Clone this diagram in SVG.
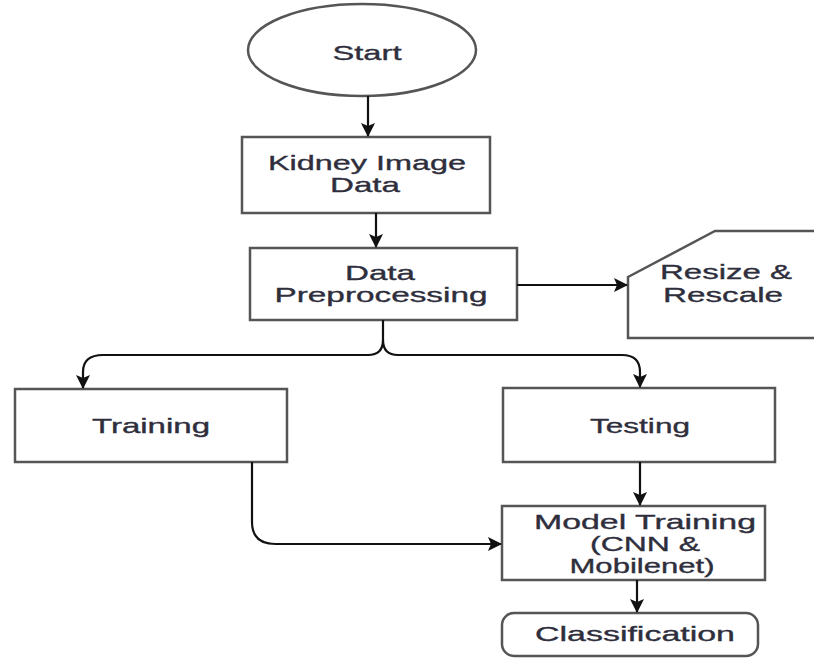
<svg xmlns="http://www.w3.org/2000/svg" width="814" height="658" viewBox="0 0 814 658">
<style>
.box{fill:#fff;stroke:#555;stroke-width:2.5}
.t{font-family:"Liberation Sans",Arial,sans-serif;font-size:21px;fill:#2e2e3c;stroke:#2e2e3c;stroke-width:0.35;text-anchor:middle}
.c{fill:none;stroke:#111;stroke-width:2.2}
</style>
<defs>
<marker id="ah" viewBox="0 0 14 14" refX="13" refY="7" markerWidth="14" markerHeight="14" markerUnits="userSpaceOnUse" orient="auto">
<path d="M0,0 L14,7 L0,14 L3,7 Z" fill="#111"/>
</marker>
</defs>
<rect width="814" height="658" fill="#fff"/>
<g id="start">
<ellipse class="box" cx="362" cy="50" rx="114" ry="46"/>
<text class="t" x="367" y="60" textLength="69" lengthAdjust="spacingAndGlyphs">Start</text>
</g>
<g id="kidney">
<rect class="box" x="242" y="137" width="248" height="76"/>
<text class="t" x="367" y="170" textLength="198" lengthAdjust="spacingAndGlyphs">Kidney Image</text>
<text class="t" x="365" y="192" textLength="70" lengthAdjust="spacingAndGlyphs">Data</text>
</g>
<g id="preprocessing">
<rect class="box" x="250" y="248" width="267" height="72"/>
<text class="t" x="380" y="280" textLength="70" lengthAdjust="spacingAndGlyphs">Data</text>
<text class="t" x="381" y="302" textLength="213" lengthAdjust="spacingAndGlyphs">Preprocessing</text>
</g>
<g id="resize">
<path class="box" d="M628,277 L715,231 L818,231 L818,338 L628,338 Z"/>
<text class="t" x="726" y="279" textLength="132" lengthAdjust="spacingAndGlyphs">Resize &amp;</text>
<text class="t" x="723" y="302" textLength="120" lengthAdjust="spacingAndGlyphs">Rescale</text>
</g>
<g id="training">
<rect class="box" x="15" y="389" width="272" height="73"/>
<text class="t" x="151" y="433" textLength="118" lengthAdjust="spacingAndGlyphs">Training</text>
</g>
<g id="testing">
<rect class="box" x="503" y="388" width="272" height="74"/>
<text class="t" x="640" y="433" textLength="100" lengthAdjust="spacingAndGlyphs">Testing</text>
</g>
<g id="model">
<rect class="box" x="502" y="506" width="263" height="74"/>
<text class="t" x="645" y="529" textLength="222" lengthAdjust="spacingAndGlyphs">Model Training</text>
<text class="t" x="645" y="551" textLength="110" lengthAdjust="spacingAndGlyphs">(CNN &amp;</text>
<text class="t" x="642" y="573" textLength="145" lengthAdjust="spacingAndGlyphs">Mobilenet)</text>
</g>
<g id="classification">
<rect class="box" x="502" y="613" width="256" height="43" rx="12" ry="12"/>
<text class="t" x="635" y="641" textLength="200" lengthAdjust="spacingAndGlyphs">Classification</text>
</g>
<g id="connectors">
<path class="c" d="M368,96 L368,136" marker-end="url(#ah)"/>
<path class="c" d="M376,213 L376,247" marker-end="url(#ah)"/>
<path class="c" d="M517,285 L627,285" marker-end="url(#ah)"/>
<path class="c" d="M383,320 L383,340 Q383,355 368,355 L103,355 Q83,355 83,372 L83,388" marker-end="url(#ah)"/>
<path class="c" d="M383,340 Q383,355 398,355 L622,355 Q640,355 640,372 L640,387" marker-end="url(#ah)"/>
<path class="c" d="M640,462 L640,505" marker-end="url(#ah)"/>
<path class="c" d="M252,462 L252,522 Q252,544 276,544 L501,544" marker-end="url(#ah)"/>
<path class="c" d="M637,580 L637,612" marker-end="url(#ah)"/>
</g>
</svg>
